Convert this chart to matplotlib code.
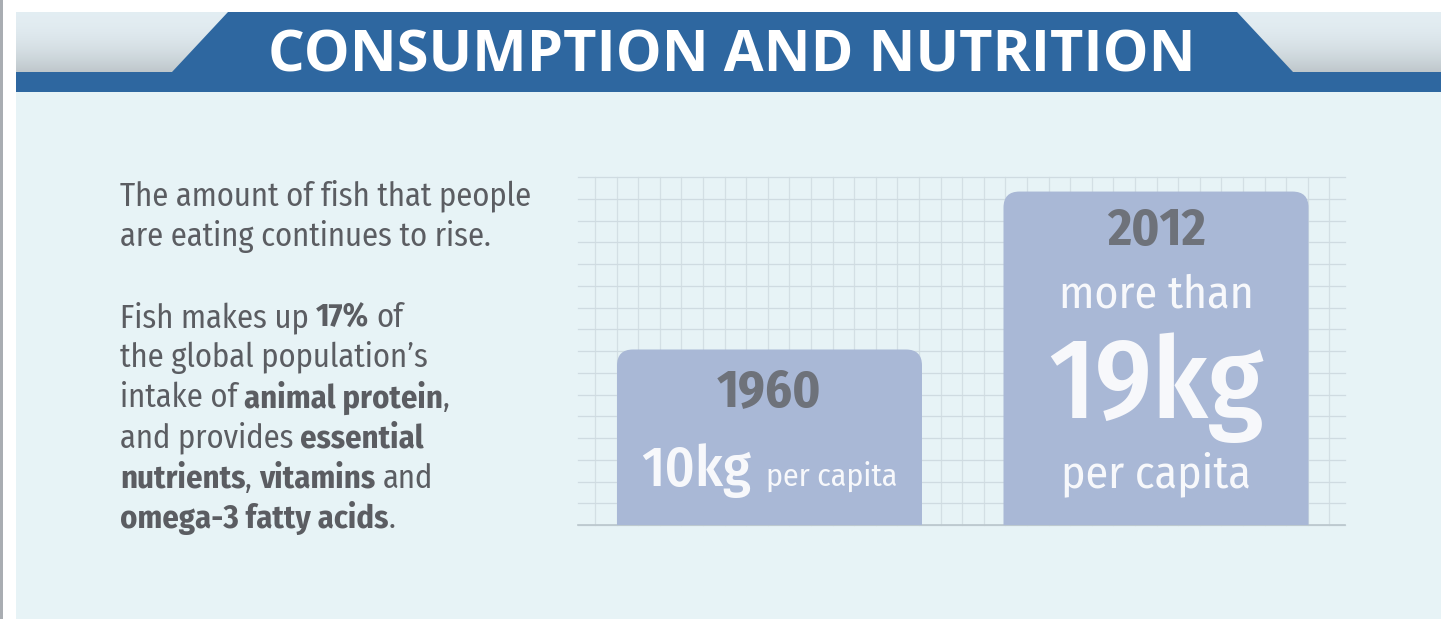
"""
fish consumption infographic: per-capita intake 1960 vs 2012
draws a header banner, a short text block and two rounded bars on a grid
"""

import matplotlib
matplotlib.use("Agg")
import matplotlib.pyplot as plt
import numpy as np
from matplotlib.patches import FancyBboxPatch, Polygon, Rectangle

# data
years = ["1960", "2012"]
kg_per_capita = [10, 19]
title = "CONSUMPTION AND NUTRITION"
intro_lines = [
    [("The amount of fish that people", False)],
    [("are eating continues to rise.", False)],
]
detail_lines = [
    [("Fish makes up", False), (" 17%", True), (" of", False)],
    [("the global population\u2019s", False)],
    [("intake of", False), (" animal protein", True), (",", False)],
    [("and provides", False), (" essential", True)],
    [("nutrients", True), (",", False), (" vitamins", True), (" and", False)],
    [("omega-3 fatty acids", True), (".", False)],
]

W, H = 1441, 619
BG = "#E7F3F6"
HEADER_BLUE = "#2E67A0"
BAR_COLOR = "#A9B8D6"
YEAR_COLOR = "#6E727A"
BODY_COLOR = "#5B5D62"
WHITE_TXT = "#F7F8FB"
COND = ["Fira Sans Condensed", "DejaVu Sans"]

fig = plt.figure(figsize=(W / 100, H / 100), dpi=100)
fig.patch.set_facecolor("white")

# pixel-coordinate canvas for everything decorative
bg = fig.add_axes([0, 0, 1, 1])
bg.set_xlim(0, W)
bg.set_ylim(H, 0)
bg.axis("off")
PX = bg.transData

bg.add_patch(Rectangle((0, 0), 3, H, color="#A9ADB2", lw=0))
bg.add_patch(Rectangle((16, 12), W - 16, H - 12, color=BG, lw=0))

# header shadow band with a soft vertical gradient
grad = np.linspace(0, 1, 60).reshape(-1, 1)
shade = np.array([0.89, 0.93, 0.95]) * (1 - grad[..., None] ** 2 * 0.16)
bg.imshow(np.repeat(shade, 2, axis=1), extent=(16, W, 72, 12),
          aspect="auto", zorder=1, interpolation="bilinear")
bg.add_patch(Polygon([(228, 12), (1237, 12), (1293, 72), (172, 72)],
                     closed=True, color=HEADER_BLUE, lw=0, zorder=3))
bg.add_patch(Rectangle((16, 72), W - 16, 20, color=HEADER_BLUE, lw=0,
                       zorder=3))

# background grid behind the bars
gx0, gx1, gy0, gy1 = 578, 1345, 177, 525
for x in np.arange(595, gx1, 21.6):
    bg.plot([x, x], [gy0, gy1], color="#D3DFE4", lw=0.9, zorder=2)
for y in np.linspace(gy0, gy1, 17):
    bg.plot([gx0, gx1], [y, y], color="#CFDBE1", lw=0.9, zorder=2)
bg.plot([gx0, gx1], [gy1, gy1], color="#BAC6CC", lw=1.2, zorder=2)

renderer = fig.canvas.get_renderer()


def text_width(s, **kw):
    t = fig.text(0, 0, s, transform=PX, **kw)
    w = t.get_window_extent(renderer).width
    t.remove()
    return w


def fit(s, width, **kw):
    """font size that makes s about `width` pixels wide"""
    return 20 * width / text_width(s, fontsize=20, **kw)


def put_runs(x, y, runs, ha="left"):
    """lays out (text, kwargs) pieces on one baseline, above all axes"""
    pieces = []
    for s, kw in runs:
        gap = 0.0
        if s.startswith(" "):
            n_sp = len(s) - len(s.lstrip())
            gap = n_sp * (text_width("n n", **kw) - text_width("nn", **kw))
            s = s.lstrip()
        pieces.append((s, kw, gap, text_width(s, **kw)))
    total = sum(g + w for _, _, g, w in pieces)
    cx = x - total / 2 if ha == "center" else x
    for s, kw, gap, w in pieces:
        cx += gap
        fig.text(cx, y, s, ha="left", va="baseline", transform=PX,
                 zorder=5, **kw)
        cx += w


title_kw = dict(color="white", fontweight="bold", family="Open Sans")
put_runs(732, 71, [(title, dict(title_kw, fontsize=fit(title, 925,
                                                        **title_kw)))],
         ha="center")

body = dict(family=COND, color=BODY_COLOR)
body["fontsize"] = fit(intro_lines[0][0][0], 412, **body)
y = 205
for line in intro_lines:
    put_runs(120, y, [(s, dict(body, fontweight="bold" if b else "normal"))
                      for s, b in line])
    y += 41
y = 327
for line in detail_lines:
    put_runs(120, y, [(s, dict(body, fontweight="bold" if b else "normal"))
                      for s, b in line])
    y += 40.2

# bar chart: x in category slots, y in kg
px_per_kg = 17.55
ax = fig.add_axes([gx0 / W, (H - gy1) / H, (gx1 - gx0) / W, (gy1 - gy0) / H])
ax.set_facecolor("none")
ax.set_ylim(0, (gy1 - gy0) / px_per_kg)
slot = 386.5
ax.set_xlim(-(769.5 - gx0) / slot, 1 + (gx1 - 1156) / slot)
ax.axis("off")

bar_w = 305 / slot
bars = ax.bar(range(len(years)), kg_per_capita, width=bar_w,
              color=BAR_COLOR, alpha=0)
radius = 16
for rect in bars:
    # rounded top corners; bottom corners sit below the axis and get clipped
    x0, h = rect.get_x(), rect.get_height()
    patch = FancyBboxPatch((x0, -2), rect.get_width(), h + 2,
                           boxstyle=f"round,pad=0,rounding_size={radius / slot}",
                           mutation_aspect=slot / px_per_kg,
                           color=BAR_COLOR, lw=0, zorder=3)
    ax.add_patch(patch)

# labels, placed at each bar's pixel centre
to_px = ax.transData + bg.transData.inverted()
centers = [to_px.transform((i, 0))[0] for i in range(len(years))]

year_kw = dict(family=COND, fontweight="bold", color=YEAR_COLOR)
year_kw["fontsize"] = fit(years[0], 105, **year_kw)
kg_kw = dict(family=COND, fontweight=500, color=WHITE_TXT)
small_kw = dict(family=COND, color=WHITE_TXT)
label_kw = dict(family=COND, color=WHITE_TXT)
label_kw["fontsize"] = fit("more than", 195, **label_kw)

kg0, kg1 = (f"{v}kg" for v in kg_per_capita)
put_runs(centers[0], 407, [(years[0], year_kw)], ha="center")
put_runs(centers[0], 486,
         [(kg0, dict(kg_kw, fontsize=fit(kg0, 110, **kg_kw))),
          ("  per capita",
           dict(small_kw, fontsize=fit("per capita", 131, **small_kw)))],
         ha="center")

put_runs(centers[1], 245, [(years[1], year_kw)], ha="center")
put_runs(centers[1], 308, [("more than", label_kw)], ha="center")
put_runs(centers[1], 418, [(kg1, dict(kg_kw, fontsize=fit(kg1, 215,
                                                          **kg_kw)))],
         ha="center")
put_runs(centers[1], 487, [("per capita", label_kw)], ha="center")

fig.savefig("out.png", dpi=100, facecolor=fig.get_facecolor())
plt.close(fig)
